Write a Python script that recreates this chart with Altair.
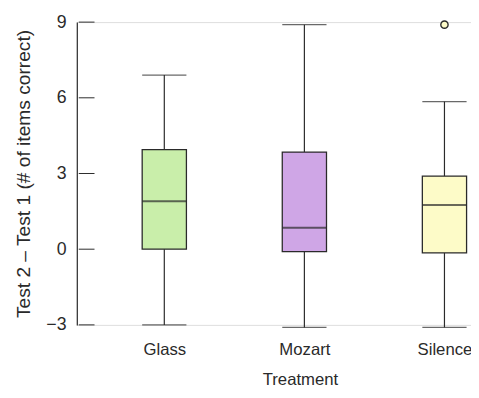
import altair as alt
import pandas as pd

groups = ["Glass", "Mozart", "Silence"]
lower_whisker = [-3.0, -3.1, -3.1]
q1 = [0.0, -0.1, -0.15]
median = [1.9, 0.85, 1.75]
q3 = [3.95, 3.85, 2.9]
upper_whisker = [6.9, 8.9, 5.85]
fills = ["#c9eeaa", "#cfa6e6", "#fdfbc8"]
outlier_groups = ["Silence"]
outlier_values = [8.9]
y_ticks = [-3, 0, 3, 6, 9]

df = pd.DataFrame({
    "Treatment": groups, "lo": lower_whisker, "q1": q1, "med": median,
    "q3": q3, "hi": upper_whisker, "fill": fills,
})
out = pd.DataFrame({"Treatment": outlier_groups, "v": outlier_values})
ticks = pd.DataFrame({"t": y_ticks})

FONT = "Liberation Sans"
INK = "#2a2a2a"

xs = alt.X("Treatment:N", scale=alt.Scale(type="point", domain=groups, range=[89, 374], padding=0),
           axis=alt.Axis(title="Treatment", domain=False, ticks=False, labelPadding=17, labelAngle=0,
                         labelFontSize=17, titleFontSize=17, titleFontWeight="normal",
                         labelFont=FONT, titleFont=FONT, labelColor=INK, titleColor=INK,
                         titlePadding=15, titleX=227))
ysc = alt.Scale(domain=[-3, 9], nice=False, zero=False)
yax = alt.Axis(title="Test 2 \u2013 Test 1 (# of items correct)", values=y_ticks, ticks=False,
               grid=False, domainColor=INK, domainWidth=1.2, labelPadding=11,
               labelFontSize=18, titleFontSize=19.5, titleFontWeight="normal",
               labelFont=FONT, titleFont=FONT, labelColor=INK, titleColor=INK, titlePadding=13)

base = alt.Chart(df)

whisk = base.mark_rule(color=INK, strokeWidth=1.2).encode(
    x=xs, y=alt.Y("lo:Q", scale=ysc, axis=yax), y2="hi:Q")
box = base.mark_bar(size=45, stroke=INK, strokeWidth=1.3).encode(
    x=xs, y=alt.Y("q1:Q", scale=ysc), y2="q3:Q",
    fill=alt.Fill("fill:N", scale=None))
med = base.mark_tick(size=45, thickness=2, color=INK).encode(x=xs, y=alt.Y("med:Q", scale=ysc))
cap_lo = base.mark_tick(size=45, thickness=1.3, color=INK).encode(x=xs, y=alt.Y("lo:Q", scale=ysc))
cap_hi = base.mark_tick(size=45, thickness=1.3, color=INK).encode(x=xs, y=alt.Y("hi:Q", scale=ysc))
pts = alt.Chart(out).mark_point(size=55, filled=True, fill="#fdfbc8", stroke=INK, strokeWidth=1.4,
                               opacity=1).encode(x=xs, y=alt.Y("v:Q", scale=ysc))
yt = alt.Chart(ticks).mark_rule(color=INK, strokeWidth=1).encode(
    x=alt.value(2), x2=alt.value(18), y=alt.Y("t:Q", scale=ysc))

chart = alt.layer(whisk, box, med, cap_lo, cap_hi, pts, yt).properties(
    width=401, height=308,
    autosize=alt.AutoSizeParams(type="none"),
    padding={"left": 70, "top": 11, "right": 0, "bottom": 70},
).configure_view(stroke=None).configure(background="white")

chart.save("out.html", embed_options={"renderer": "svg", "actions": False})
